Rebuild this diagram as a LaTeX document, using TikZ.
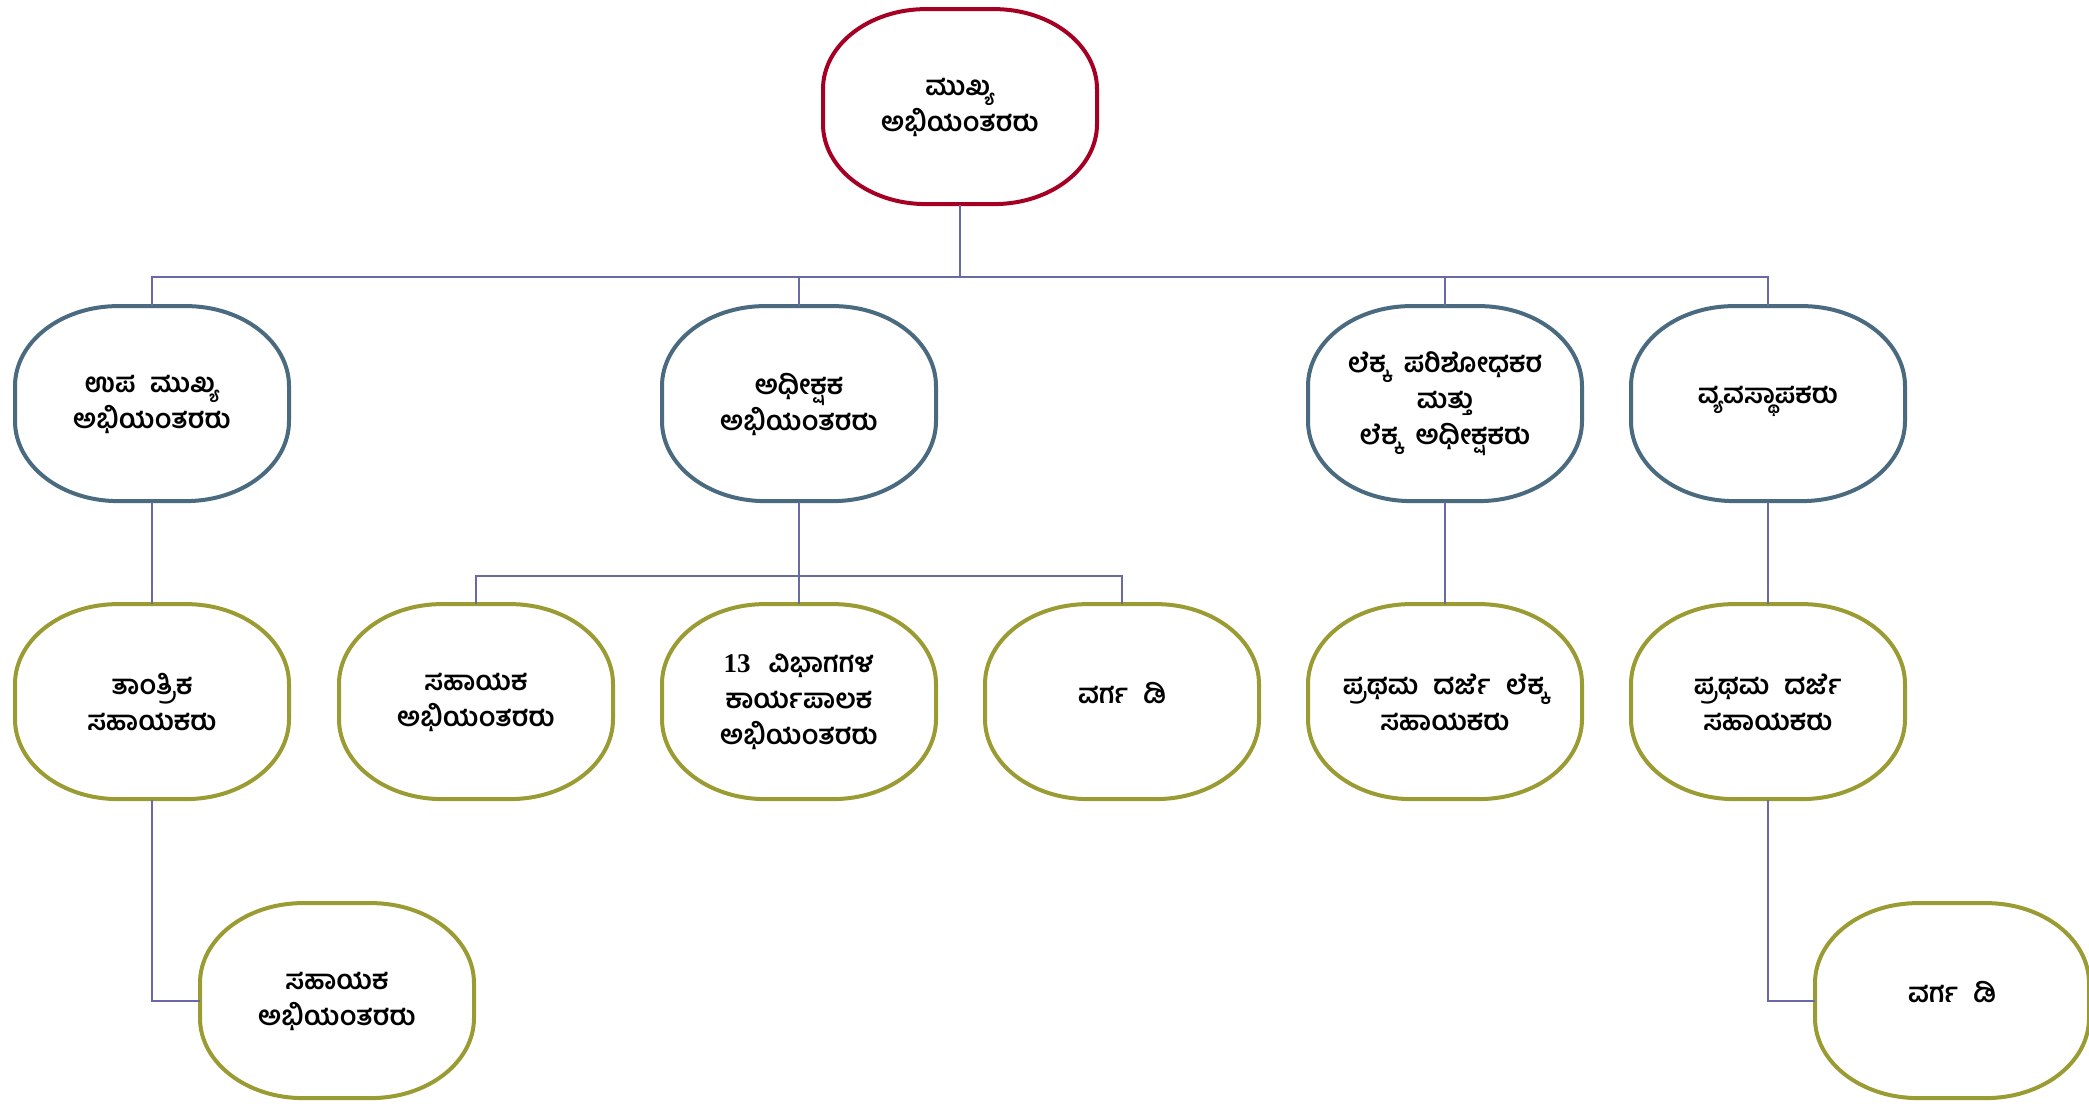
\documentclass[tikz,border=0pt]{standalone}
\usepackage{fontspec}
\setmainfont{Liberation Serif}
\newfontfamily\kn[Script=Kannada,WordSpace=2.2]{Hind Mysuru}
\definecolor{topred}{RGB}{165,0,36}
\definecolor{slate}{RGB}{74,106,128}
\definecolor{olive}{RGB}{155,155,52}
\definecolor{linkc}{RGB}{105,105,165}
\newcommand\ovalb[2]{%
  \path[draw=#2, line width=2pt, fill=white]
    ([xshift=-17pt]#1.north) -- ([xshift=17pt]#1.north)
    arc[start angle=90, end angle=0, x radius=51.5pt, y radius=40pt]
    -- ++(0,-17.5pt)
    arc[start angle=0, end angle=-90, x radius=51.5pt, y radius=40pt]
    -- ++(-34pt,0)
    arc[start angle=-90, end angle=-180, x radius=51.5pt, y radius=40pt]
    -- ++(0,17.5pt)
    arc[start angle=180, end angle=90, x radius=51.5pt, y radius=40pt]
    -- cycle;}
\begin{document}
\begin{tikzpicture}[x=0.5pt,y=-0.5pt,
  box/.style={inner sep=0pt,
    minimum width=137pt, minimum height=97.5pt, align=center,
    font=\kn\bfseries\fontsize{13.5}{18}\selectfont, text=black},
  link/.style={draw=linkc, line width=0.8pt}]
\useasboundingbox (0,0) rectangle (2089,1107);
\coordinate (busA) at (0,277);
\coordinate (busB) at (0,576);
% shape anchors
\node[box] (top) at (960,107) {};
\node[box] (upa) at (152,404) {};
\node[box] (adhi) at (799,404) {};
\node[box] (lekka) at (1445,404) {};
\node[box] (vyava) at (1768,404) {};
\node[box] (tant) at (152,702) {};
\node[box] (saha) at (476,702) {};
\node[box] (karya) at (799,702) {};
\node[box] (vargaA) at (1122,702) {};
\node[box] (prathA) at (1445,702) {};
\node[box] (prathB) at (1768,702) {};
\node[box] (saha2) at (337,1001) {};
\node[box] (vargaB) at (1952,1001) {};
% outlines
\ovalb{top}{topred}
\foreach \n in {upa,adhi,lekka,vyava}{\ovalb{\n}{slate}}
\foreach \n in {tant,saha,karya,vargaA,prathA,prathB,saha2,vargaB}{\ovalb{\n}{olive}}
% texts
\node[box] (topT) at (top) {ಮುಖ್ಯ\\ಅಭಿಯಂತರರು};
\node[box] (upaT) at (upa) {ಉಪ ಮುಖ್ಯ\\ಅಭಿಯಂತರರು};
\node[box] (adhiT) at (adhi) {ಅಧೀಕ್ಷಕ\\ಅಭಿಯಂತರರು};
\node[box] (lekkaT) at (lekka) {ಲೆಕ್ಕ ಪರಿಶೋಧಕರ\\ಮತ್ತು\\ಲೆಕ್ಕ ಅಧೀಕ್ಷಕರು};
\node[box] (vyavaT) at (vyava) {\raisebox{9pt}{ವ್ಯವಸ್ಥಾಪಕರು}};
\node[box] (tantT) at (tant) {ತಾಂತ್ರಿಕ\\ಸಹಾಯಕರು};
\node[box] (sahaT) at (saha) {ಸಹಾಯಕ\\ಅಭಿಯಂತರರು};
\node[box] (karyaT) at (karya) {{\rmfamily\bfseries 13}\hspace{9pt}ವಿಭಾಗಗಳ\\ಕಾರ್ಯಪಾಲಕ\\ಅಭಿಯಂತರರು};
\node[box] (vargaAT) at (vargaA) {\raisebox{9pt}{ವರ್ಗ ಡಿ}};
\node[box] (prathAT) at (prathA) {ಪ್ರಥಮ ದರ್ಜೆ ಲೆಕ್ಕ\\ಸಹಾಯಕರು};
\node[box] (prathBT) at (prathB) {ಪ್ರಥಮ ದರ್ಜೆ\\ಸಹಾಯಕರು};
\node[box] (saha2T) at (saha2) {ಸಹಾಯಕ\\ಅಭಿಯಂತರರು};
\node[box] (vargaBT) at (vargaB) {\raisebox{9pt}{ವರ್ಗ ಡಿ}};
% connectors
\path[link] (top.south) -- (top.south |- busA) -| (upa.north);
\path[link] (top.south |- busA) -| (adhi.north);
\path[link] (top.south |- busA) -| (lekka.north);
\path[link] (top.south |- busA) -| (vyava.north);
\path[link] (adhi.south) -- (adhi.south |- busB) -| (saha.north);
\path[link] (adhi.south |- busB) -| (vargaA.north);
\path[link] (adhi.south |- busB) -- (karya.north);
\path[link] (upa.south) -- (tant.north);
\path[link] (lekka.south) -- (prathA.north);
\path[link] (vyava.south) -- (prathB.north);
\path[link] (tant.south) |- (saha2.west);
\path[link] (prathB.south) |- (vargaB.west);
\end{tikzpicture}
\end{document}
